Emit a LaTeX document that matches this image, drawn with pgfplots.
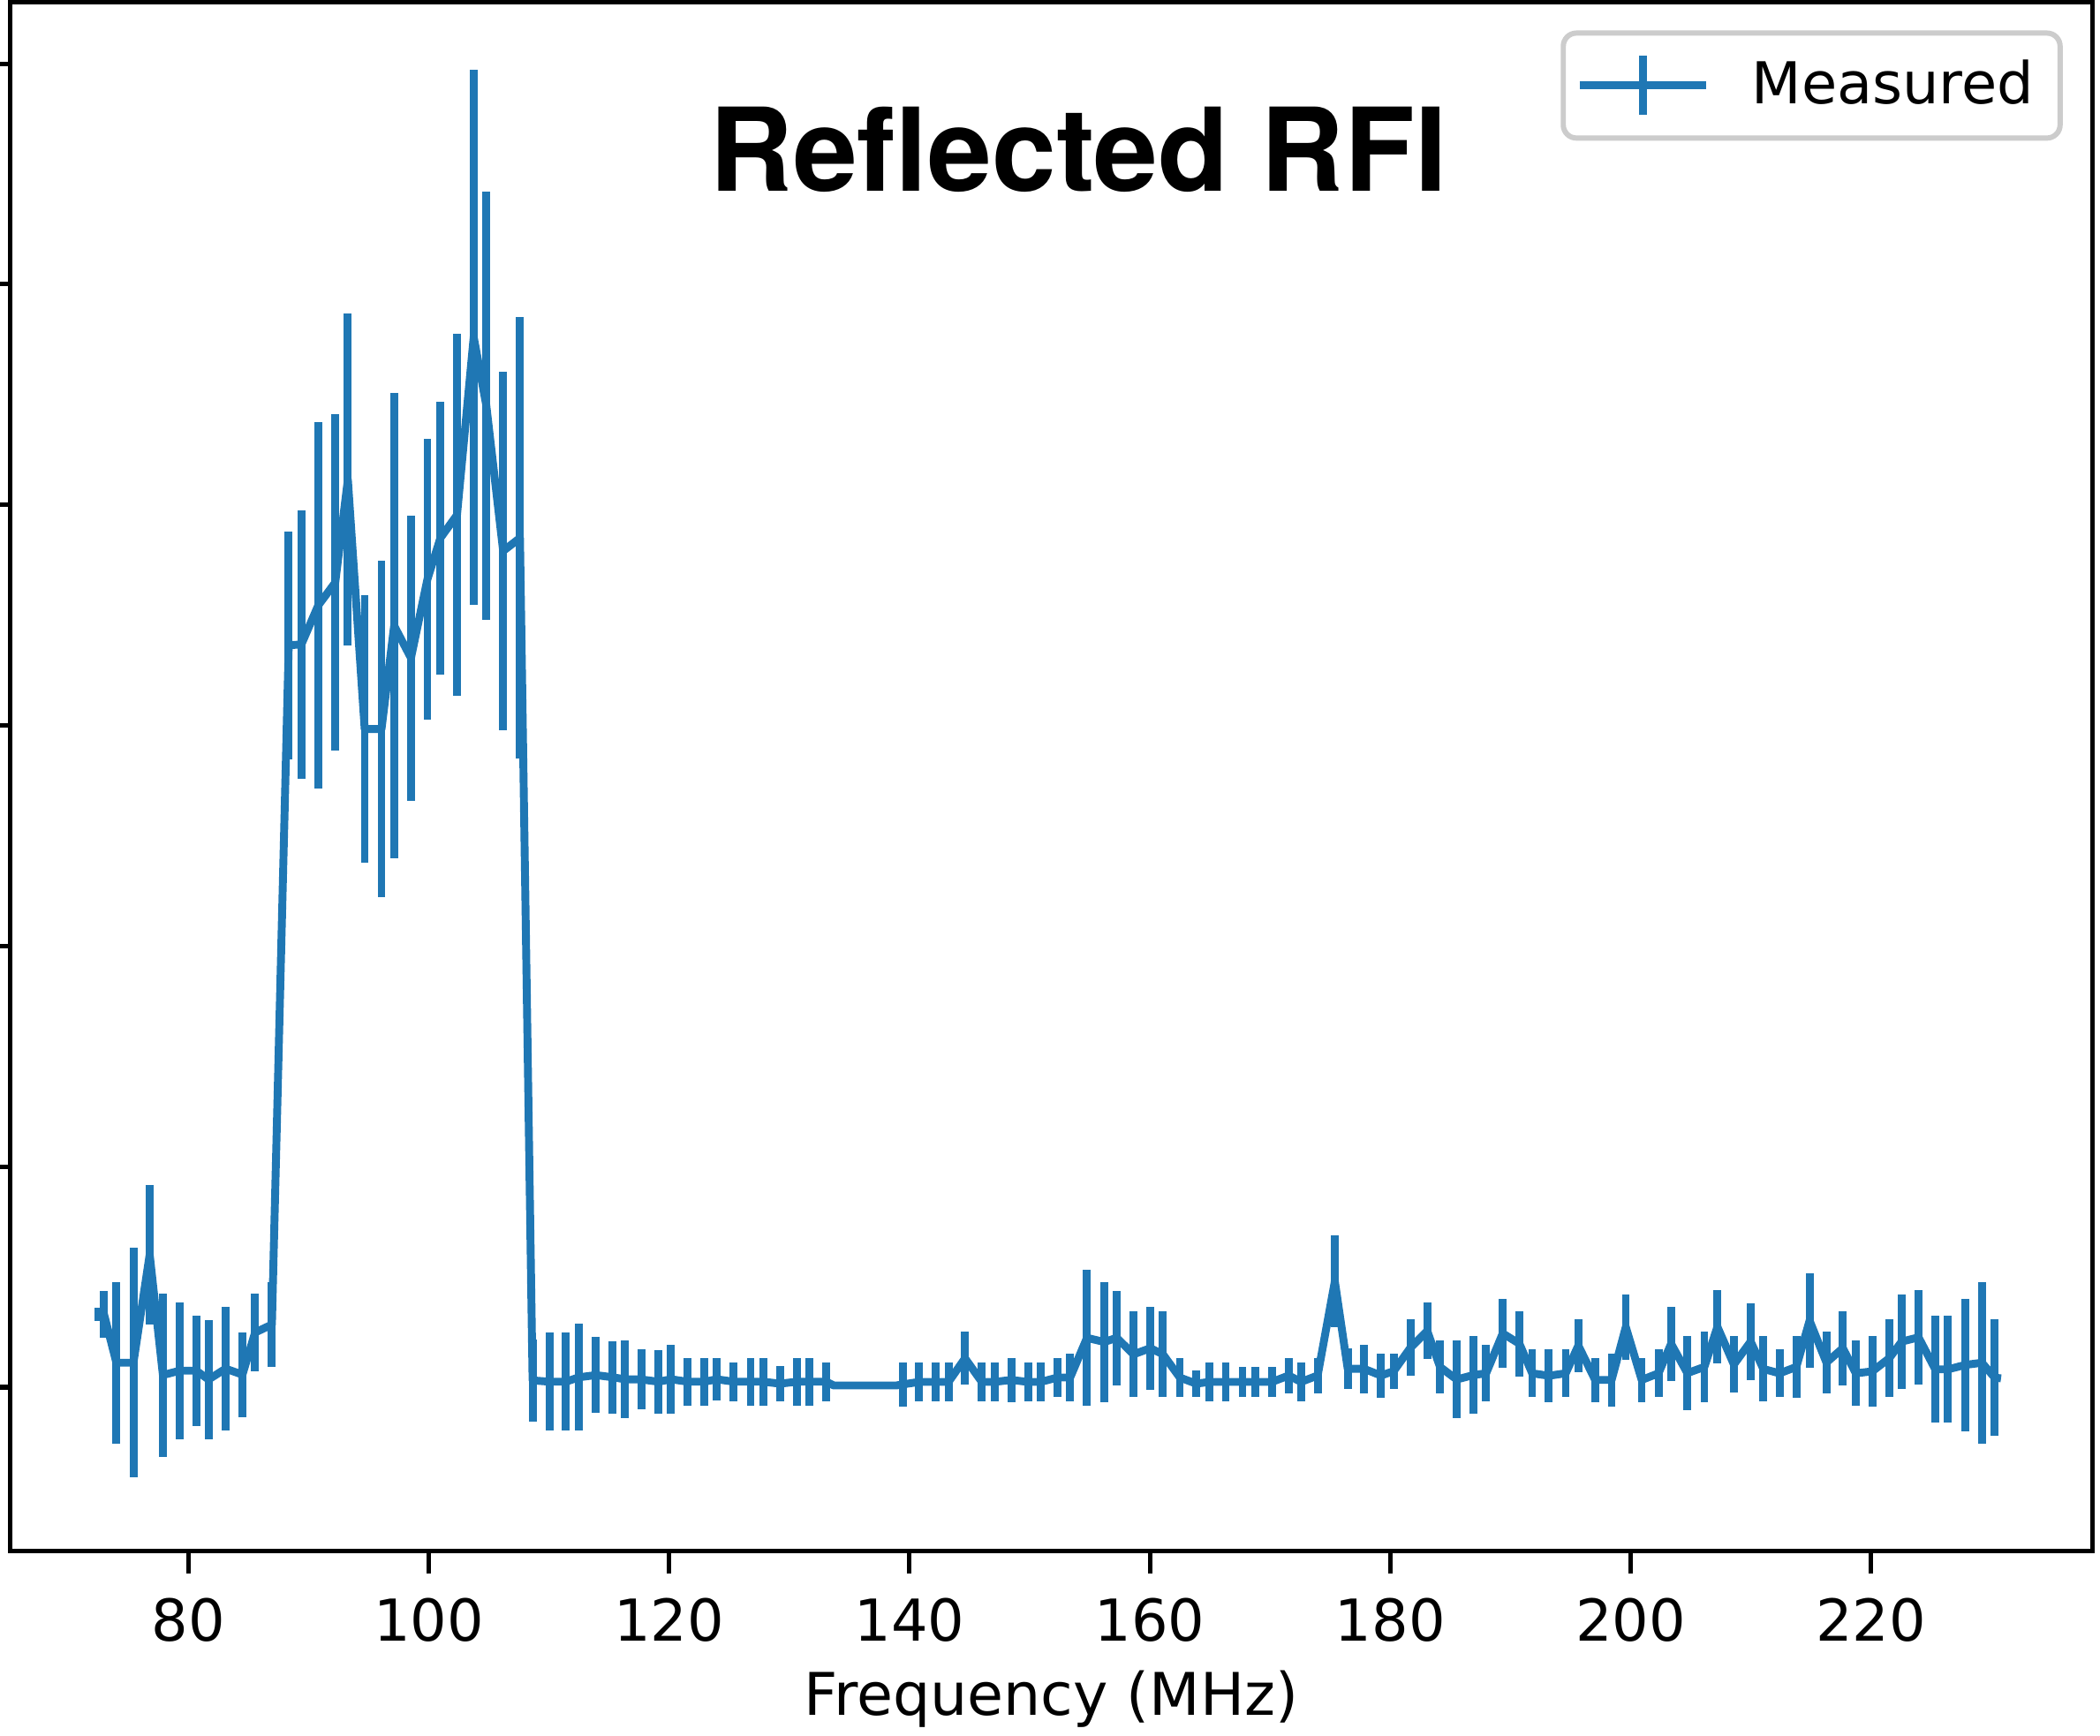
\documentclass[border=0pt]{standalone}
\usepackage{fontspec}
\setmainfont{DejaVu Sans}
\newfontfamily\heros{TeX Gyre Heros}
\usepackage{pgfplots}
\pgfplotsset{compat=1.18}
\usepackage{pgfplotstable}
\definecolor{mplblue}{HTML}{1F77B4}

% frequency (MHz), value, half error
\pgfplotstableread{
f v e
72.49 0.331 0.03
72.98 0.331 0.107
74.01 0.111 0.367
75.43 0.111 0.520
76.78 0.602 0.316
77.88 0.055 0.370
79.28 0.075 0.310
80.65 0.075 0.250
81.68 0.035 0.270
83.10 0.084 0.280
84.50 0.057 0.193
85.55 0.248 0.176
86.95 0.284 0.193
88.35 3.364 0.517
89.40 3.367 0.608
90.80 3.544 0.830
92.22 3.648 0.763
93.27 4.115 0.753
94.67 2.984 0.608
96.07 2.984 0.761
97.12 3.452 1.054
98.52 3.306 0.646
99.89 3.663 0.638
100.97 3.850 0.618
102.35 3.954 0.820
103.74 4.761 1.213
104.79 4.450 0.970
106.19 3.791 0.812
107.59 3.850 1.001
108.64 0.031 0.187
110.04 0.025 0.222
111.41 0.025 0.222
112.49 0.045 0.242
113.91 0.055 0.173
115.31 0.045 0.165
116.32 0.036 0.175
117.71 0.035 0.136
119.11 0.025 0.145
120.16 0.036 0.155
121.56 0.025 0.108
122.93 0.025 0.108
123.96 0.036 0.097
125.38 0.025 0.088
126.78 0.025 0.108
127.83 0.025 0.108
129.23 0.016 0.079
130.63 0.025 0.108
131.68 0.025 0.108
133.08 0.025 0.088
133.70 0.008 0.0
138.90 0.008 0.0
139.48 0.013 0.100
140.80 0.024 0.089
142.17 0.024 0.089
143.25 0.024 0.089
144.62 0.131 0.120
146.02 0.024 0.089
147.07 0.024 0.089
148.47 0.033 0.100
149.87 0.024 0.089
150.92 0.024 0.089
152.32 0.044 0.089
153.37 0.044 0.109
154.77 0.224 0.310
156.19 0.205 0.272
157.25 0.224 0.214
158.64 0.149 0.195
160.04 0.177 0.187
161.09 0.149 0.195
162.49 0.044 0.089
163.86 0.016 0.061
164.94 0.024 0.089
166.31 0.024 0.089
167.71 0.024 0.069
168.77 0.024 0.069
170.16 0.024 0.069
171.56 0.053 0.080
172.57 0.024 0.089
173.96 0.053 0.080
175.39 0.480 0.207
176.46 0.084 0.091
177.84 0.083 0.109
179.23 0.053 0.100
180.29 0.073 0.080
181.68 0.179 0.128
183.08 0.255 0.128
184.14 0.092 0.119
185.53 0.035 0.176
186.91 0.055 0.176
187.98 0.063 0.128
189.36 0.244 0.157
190.75 0.197 0.147
191.81 0.063 0.109
193.20 0.052 0.119
194.60 0.063 0.109
195.65 0.189 0.119
197.05 0.033 0.100
198.42 0.033 0.120
199.60 0.273 0.148
200.92 0.033 0.100
202.32 0.063 0.109
203.37 0.197 0.167
204.72 0.064 0.167
206.14 0.092 0.159
207.22 0.274 0.167
208.59 0.103 0.128
209.99 0.207 0.175
211.04 0.083 0.148
212.39 0.063 0.109
213.79 0.092 0.139
214.89 0.302 0.214
216.29 0.112 0.139
217.66 0.177 0.167
218.74 0.063 0.148
220.11 0.072 0.159
221.51 0.131 0.176
222.56 0.207 0.214
223.96 0.226 0.215
225.35 0.081 0.243
226.41 0.081 0.243
227.83 0.101 0.300
229.23 0.111 0.367
230.28 0.044 0.263
230.82 0.040 0.0
}\rfi

\begin{document}
\begin{tikzpicture}
\begin{axis}[
  scale only axis, width=396.5pt, height=294.9pt,
  xmin=65.2, xmax=238.4, ymin=-0.741, ymax=6.277,
  xtick={80,100,...,220}, ytick={0,...,6}, yticklabels={},
  xtick pos=bottom, ytick pos=left,
  tick align=outside, major tick length=4.3pt,
  axis line style={line width=0.85pt},
  tick style={line width=0.85pt, black},
  /pgf/number format/assume math mode=true,
  /pgf/number format/1000 sep={},
  xticklabel style={font=\fontsize{11}{13}\selectfont, anchor=base, yshift=-12.9pt},
  every axis x label/.style={at={(axis description cs:0.5,0)}, anchor=base, yshift=-31.3pt,
    font=\fontsize{11.2}{13}\selectfont},
  xlabel={Frequency (MHz)},
  title={Reflected RFI},
  title style={at={(axis description cs:0.513,1)}, anchor=base, yshift=-42pt,
    font=\heros\bfseries\fontsize{22}{26}\selectfont},
  legend style={at={(1,1)}, anchor=north east, xshift=-5.6pt, yshift=-5.3pt,
    draw=black!20, line width=1pt, rounded corners=2.5pt,
    inner xsep=2.4pt, inner ysep=3.6pt, column sep=8pt,
    nodes={inner sep=0pt}, font=\fontsize{11}{13}\selectfont},
  legend image code/.code={
    \draw[mplblue, line width=1.5pt] (0pt,0pt) -- (24pt,0pt);
    \draw[mplblue, line width=1.5pt] (12pt,-5.65pt) -- (12pt,5.65pt);
  },
]
\addplot[mplblue, line width=1.5pt, mark=none, line join=round,
  error bars/.cd, y dir=both, y explicit, error mark=none,
  error bar style={line width=1.5pt, mplblue}]
  table[x=f, y=v, y error=e] {\rfi};
\addlegendentry{Measured\kern2.6pt}
\end{axis}
\pgfresetboundingbox
\path ([xshift=-2pt,yshift=-35.3pt]current axis.south west) rectangle ([xshift=1.5pt,yshift=0.5pt]current axis.north east);
\end{tikzpicture}
\end{document}
